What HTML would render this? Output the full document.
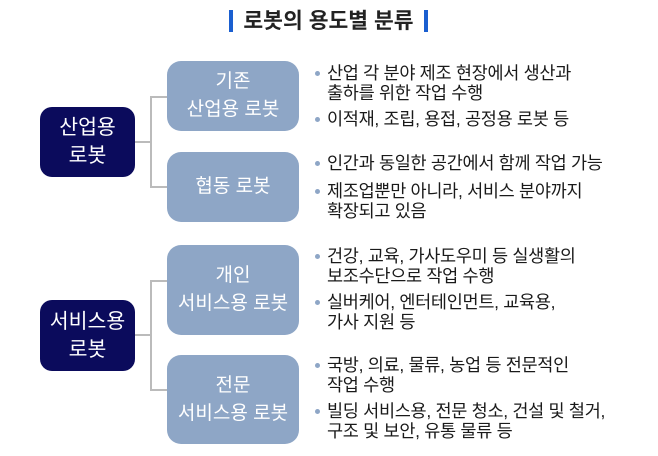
<!DOCTYPE html>
<html><head><meta charset="utf-8"><style>
body{margin:0;width:658px;height:456px;background:#fff;position:relative;overflow:hidden;font-family:"Liberation Sans","Noto Sans CJK KR",sans-serif}
.a{position:absolute}
.L{position:absolute;background:#0b0b5c;color:#fff;border-radius:12px;display:flex;align-items:center;justify-content:center;text-align:center;font-size:20.5px;line-height:28px;left:40px;width:95px}
.M{position:absolute;background:#8ea6c6;color:#fff;border-radius:14px;display:flex;align-items:center;justify-content:center;text-align:center;font-size:19px;line-height:28px;left:167px;width:132px}
.ln{position:absolute;background:#bbb}
.t{position:absolute;left:327px;font-size:17.5px;line-height:20px;color:#1a1a1a;white-space:nowrap;letter-spacing:-0.3px}
.t:before{content:"";position:absolute;left:-12px;top:8px;width:5px;height:5px;border-radius:50%;background:#8ea6c6}
</style></head><body>
<div class="a" style="left:229px;top:10px;width:4px;height:22px;background:#1a5fd0"></div>
<div class="a" style="left:424px;top:10px;width:4px;height:22px;background:#1a5fd0"></div>
<div class="a" style="left:233px;top:7px;width:191px;text-align:center;font-size:21.5px;font-weight:bold;color:#222;line-height:28px;white-space:nowrap">로봇의 용도별 분류</div>

<div class="L" style="top:107px;height:70px">산업용<br>로봇</div>
<div class="L" style="top:300px;height:71px">서비스용<br>로봇</div>

<div class="ln" style="left:135px;top:141px;width:16px;height:2px"></div>
<div class="ln" style="left:150px;top:96px;width:2px;height:92px"></div>
<div class="ln" style="left:150px;top:96px;width:17px;height:2px"></div>
<div class="ln" style="left:150px;top:186px;width:17px;height:2px"></div>

<div class="ln" style="left:135px;top:334px;width:16px;height:2px"></div>
<div class="ln" style="left:150px;top:280px;width:2px;height:111px"></div>
<div class="ln" style="left:150px;top:280px;width:17px;height:2px"></div>
<div class="ln" style="left:150px;top:389px;width:17px;height:2px"></div>

<div class="M" style="top:61px;height:70px">기존<br>산업용 로봇</div>
<div class="M" style="top:152px;height:70px">협동 로봇</div>
<div class="M" style="top:245px;height:90px">개인<br>서비스용 로봇</div>
<div class="M" style="top:355px;height:89px">전문<br>서비스용 로봇</div>

<div class="t" style="top:63px">산업 각 분야 제조 현장에서 생산과<br>출하를 위한 작업 수행</div>
<div class="t" style="top:109px">이적재, 조립, 용접, 공정용 로봇 등</div>
<div class="t" style="top:153px">인간과 동일한 공간에서 함께 작업 가능</div>
<div class="t" style="top:181px">제조업뿐만 아니라, 서비스 분야까지<br>확장되고 있음</div>
<div class="t" style="top:246px">건강, 교육, 가사도우미 등 실생활의<br>보조수단으로 작업 수행</div>
<div class="t" style="top:292px">실버케어, 엔터테인먼트, 교육용,<br>가사 지원 등</div>
<div class="t" style="top:355px">국방, 의료, 물류, 농업 등 전문적인<br>작업 수행</div>
<div class="t" style="top:401px">빌딩 서비스용, 전문 청소, 건설 및 철거,<br>구조 및 보안, 유통 물류 등</div>
</body></html>
